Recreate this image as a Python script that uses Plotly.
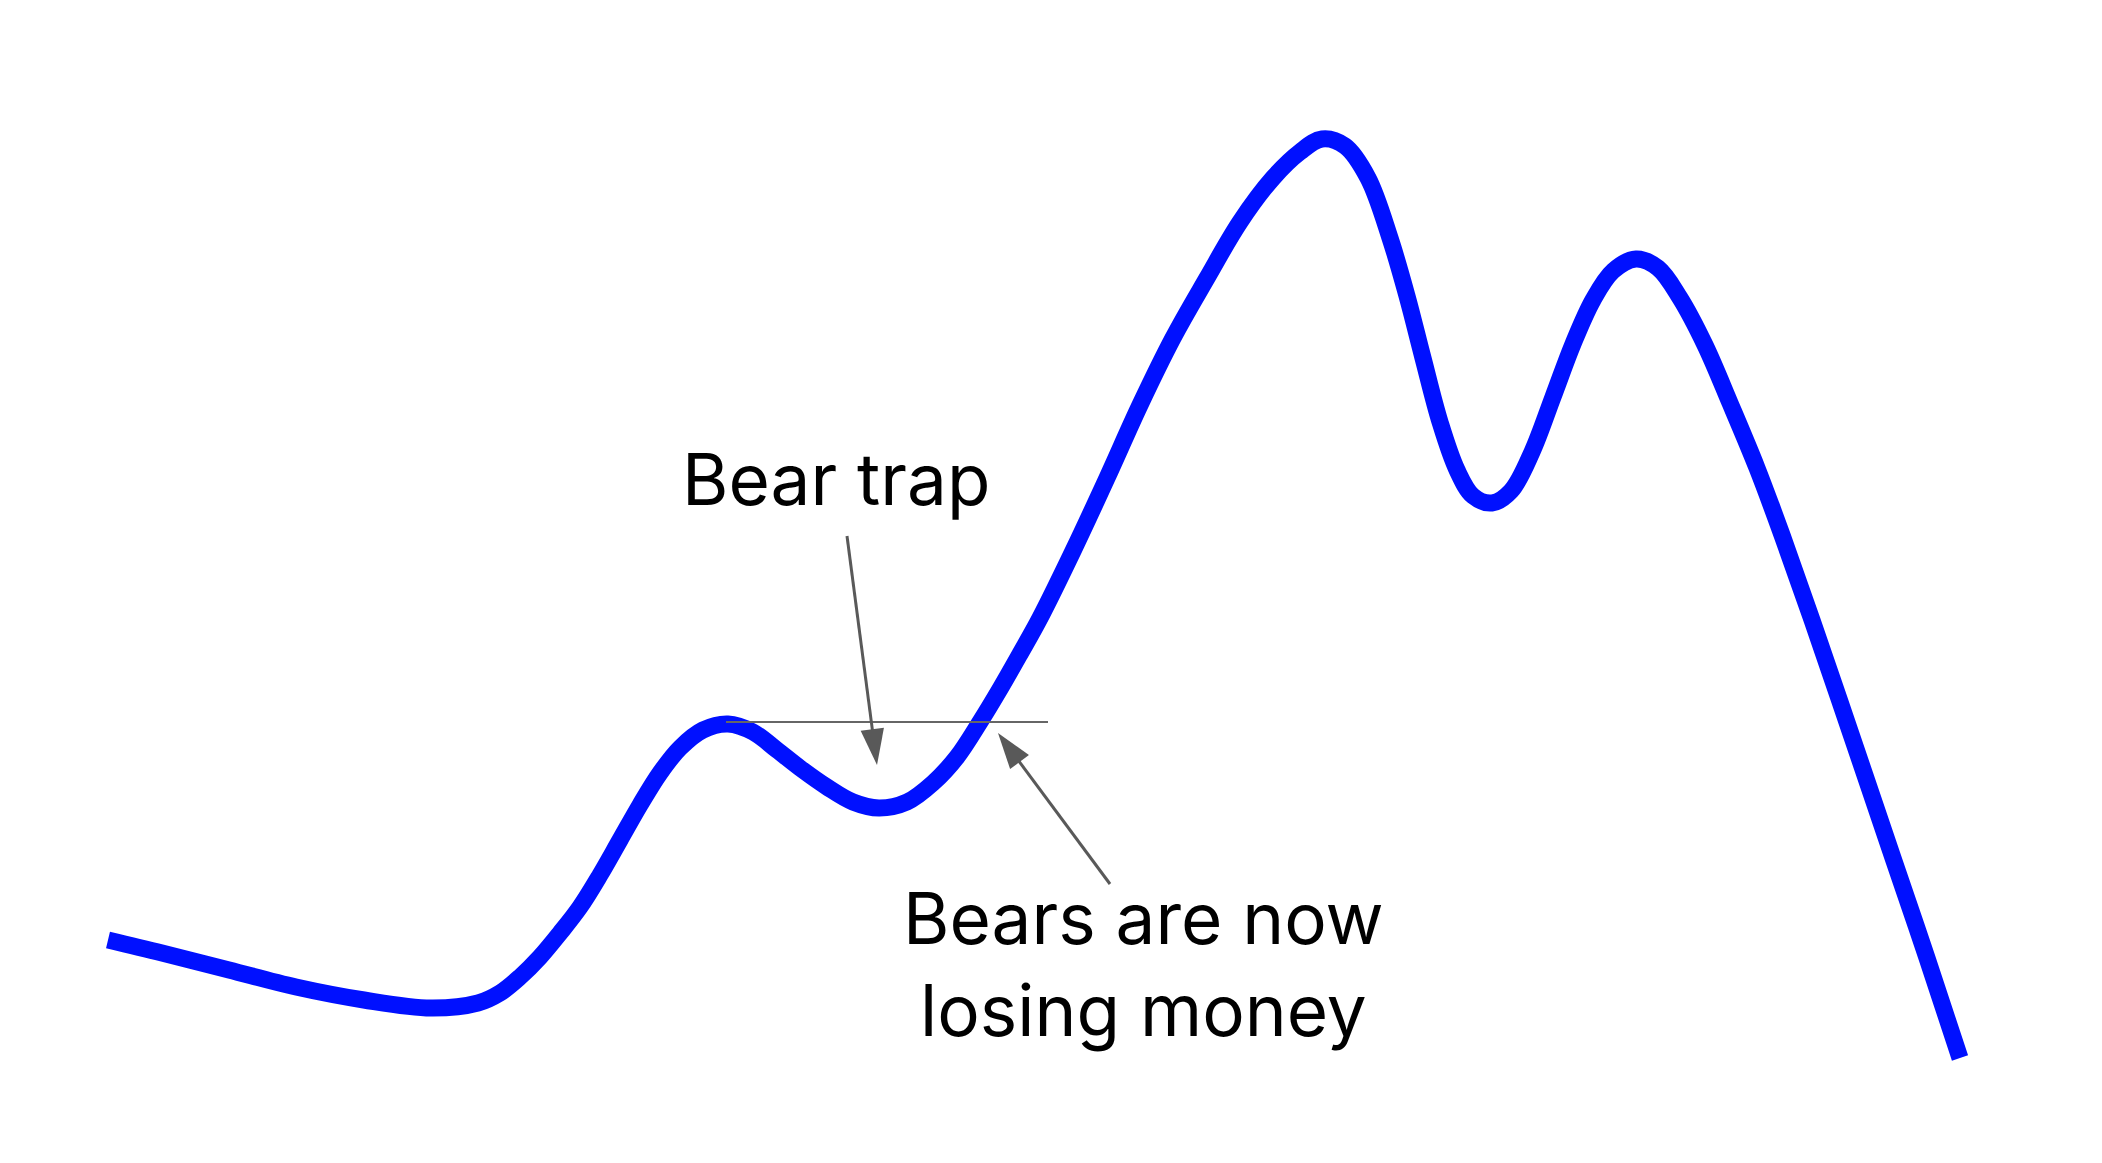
"""Bear trap illustration - price path with annotations."""

import plotly.graph_objects as go


# Price path (pixel-like units, y grows downwards)
path_x = [108, 162, 229, 296, 364, 431, 478, 500, 520, 540, 560, 580, 600,
          620, 640, 660, 680, 703, 728, 753, 777, 800, 827, 853, 879, 907,
          933, 957, 980, 1000, 1020, 1040, 1073, 1107, 1140, 1173, 1207,
          1240, 1273, 1300, 1322, 1345, 1368, 1390, 1407, 1423, 1440, 1457,
          1473, 1492, 1511, 1532, 1553, 1573, 1593, 1613, 1636, 1658, 1680,
          1705, 1730, 1757, 1782, 1812, 1853, 1893, 1927, 1960]
path_y = [940, 953, 970, 987, 1000, 1008, 1003, 993, 977, 957, 933, 907, 875,
          840, 805, 773, 748, 730, 724, 732, 750, 768, 787, 802, 808, 802,
          783, 757, 722, 689, 654, 618, 551, 478, 405, 338, 278,
          222, 178, 152, 139, 146, 178, 238, 296, 358, 422, 470,
          496, 503, 491, 452, 397, 344, 300, 271, 259, 268, 298,
          345, 403, 468, 535, 620, 740, 858, 958, 1058]

# Support level of the first bump
level_x = [726, 1048]
level_y = [722, 722]

# Annotations: label, label position, arrow tail, arrow tip
labels = ["Bear trap", "Bears are now<br>losing money"]
label_x = [836, 1143]
label_y = [479, 964]
tail_x = [847, 1110]
tail_y = [536, 884]
tip_x = [877, 998]
tip_y = [765, 733]

W, H = 2102, 1163
GREY = "#595959"

fig = go.Figure()

fig.add_trace(go.Scatter(
    x=path_x,
    y=path_y,
    mode="lines",
    line={"width": 17, "color": "#0010ff", "shape": "spline",
          "smoothing": 1, "simplify": False},
    hoverinfo="skip"
))

fig.add_trace(go.Scatter(
    x=level_x,
    y=level_y,
    mode="lines",
    line={"width": 2, "color": "#666666"},
    hoverinfo="skip"
))

# Arrows (tail -> tip, head drawn as an oriented marker at the tip)
for i in range(len(tip_x)):
    fig.add_trace(go.Scatter(
        x=[tail_x[i], tip_x[i]],
        y=[tail_y[i], tip_y[i]],
        mode="lines+markers",
        line={"width": 3, "color": GREY},
        marker={"symbol": "arrow", "angleref": "previous",
                "size": [0, 38], "color": GREY, "opacity": 1,
                "line": {"width": 0}},
        hoverinfo="skip"
    ))

# Labels
for i in range(len(labels)):
    fig.add_annotation(
        x=label_x[i], y=label_y[i], xref="x", yref="y",
        text=labels[i], showarrow=False,
        xanchor="center", yanchor="middle", align="center",
        font={"family": "Inter", "size": 71, "color": "black"}
    )

fig.update_layout(
    width=W,
    height=H,
    margin={"l": 0, "r": 0, "t": 0, "b": 0},
    plot_bgcolor="white",
    paper_bgcolor="white",
    showlegend=False,
    xaxis={"range": [0, W], "visible": False, "fixedrange": True},
    yaxis={"range": [H, 0], "visible": False, "fixedrange": True}
)

fig.write_html("out.html", config={"displayModeBar": False},
               post_script="document.body.style.margin = '0';")
